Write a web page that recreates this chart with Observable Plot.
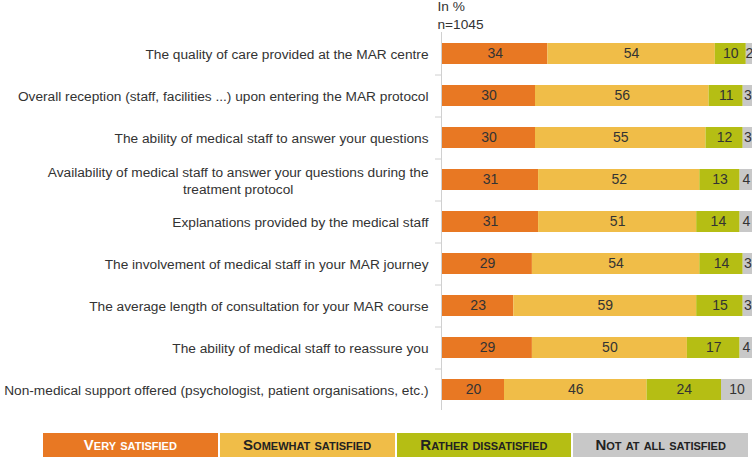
<!DOCTYPE html>
<html>
<head>
<meta charset="utf-8">
<script src="https://cdn.jsdelivr.net/npm/d3@7"></script>
<script src="https://cdn.jsdelivr.net/npm/@observablehq/plot@0.6"></script>
<style>
  body { margin: 0; background: #fff; }
  #chart { position: relative; width: 752px; }
  .legend { display: flex; gap: 2px; margin-left: 43px; width: 705px; margin-top: 13px; }
  .legend div { flex: 1; height: 24px; line-height: 24px; text-align: center;
    font-family: "Liberation Sans Narrow", "Liberation Sans", Arial, sans-serif;
    font-weight: bold; font-variant: small-caps; font-size: 15px; color: #222; }
</style>
</head>
<body>
<div id="chart"></div>
<script>
const categories = [
  "The quality of care provided at the MAR centre",
  "Overall reception (staff, facilities ...) upon entering the MAR protocol",
  "The ability of medical staff to answer your questions",
  "Availability of medical staff to answer your questions during the\ntreatment protocol",
  "Explanations provided by the medical staff",
  "The involvement of medical staff in your MAR journey",
  "The average length of consultation for your MAR course",
  "The ability of medical staff to reassure you",
  "Non-medical support offered (psychologist, patient organisations, etc.)"
];
const levels = ["Very satisfied", "Somewhat satisfied", "Rather dissatisfied", "Not at all satisfied"];
const levelColors = ["#E87823", "#F0BD48", "#B5BE14", "#C8C8C8"];
const verySatisfied = [34, 30, 30, 31, 31, 29, 23, 29, 20];
const somewhatSatisfied = [54, 56, 55, 52, 51, 54, 59, 50, 46];
const ratherDissatisfied = [10, 11, 12, 13, 14, 14, 15, 17, 24];
const notAtAllSatisfied = [2, 3, 3, 4, 4, 3, 3, 4, 10];
const headerText = "In %\nn=1045";

const series = [verySatisfied, somewhatSatisfied, ratherDissatisfied, notAtAllSatisfied];
const data = [];
categories.forEach((cat, i) => {
  levels.forEach((lev, j) => data.push({cat, level: lev, value: series[j][i]}));
});

const plot = Plot.plot({
  width: 752,
  height: 420,
  marginLeft: 442,
  marginRight: 0,
  marginTop: 32,
  marginBottom: 10,
  style: {fontFamily: "'Liberation Sans', Arial, sans-serif", fontSize: "13.7px", color: "#333", background: "#fff"},
  x: {domain: [0, 100], axis: null},
  y: {domain: categories, paddingInner: 0.5, paddingOuter: 0.25, label: null},
  color: {domain: levels, range: levelColors},
  marks: [
    Plot.barX(data, Plot.stackX({x: "value", y: "cat", fill: "level"})),
    Plot.text(data, Plot.stackX({x: "value", y: "cat", z: "level", text: d => String(d.value), fill: "#333", fontSize: 14})),
    Plot.ruleX([0], {stroke: "#d0d0d0", dx: -1}),
    Plot.axisY({ticks: categories.slice(0, 8), tickSize: 6, tickFormat: () => "", dy: 21, stroke: "#d0d0d0", dx: -1}),
    Plot.axisY({tickSize: 0, tickPadding: 14, fontSize: 13.7, fill: "#333", lineHeight: 1.25, label: null}),
    Plot.text([headerText], {frameAnchor: "top-left", textAnchor: "start", lineAnchor: "bottom", dx: -5, dy: -4, fontSize: 13.7, fill: "#333", lineHeight: 1.25})
  ]
});

const chart = document.getElementById("chart");
chart.appendChild(plot);

// center the multi-line label block
plot.querySelectorAll("text").forEach(t => {
  const spans = t.querySelectorAll("tspan");
  if (spans.length > 1 && t.textContent.startsWith("Availability")) {
    const w = t.getBBox().width;
    t.setAttribute("text-anchor", "middle");
    spans.forEach(s => s.setAttribute("x", -w / 2));
  }
});

const legend = document.createElement("div");
legend.className = "legend";
levels.forEach((lev, j) => {
  const d = document.createElement("div");
  d.textContent = lev;
  d.style.background = levelColors[j];
  if (j === 0) d.style.color = "#fff";
  legend.appendChild(d);
});
chart.appendChild(legend);
</script>
</body>
</html>
